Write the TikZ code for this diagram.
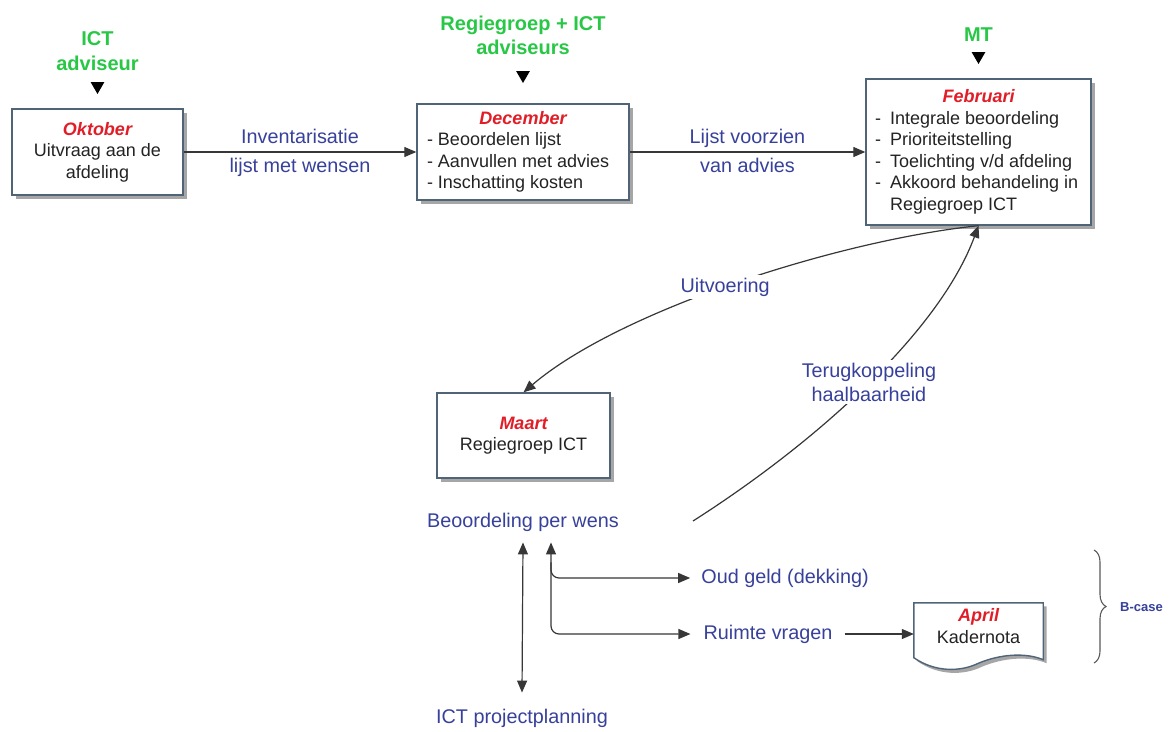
\documentclass[tikz,border=0pt]{standalone}
\usepackage{fontspec}
\setmainfont{Liberation Sans}
\usetikzlibrary{arrows.meta,shapes.geometric,shadows,calc,decorations.pathreplacing}
\pgfdeclarelayer{background}
\pgfdeclarelayer{paper}
\pgfsetlayers{paper,background,main}
\definecolor{grn}{RGB}{40,200,70}
\definecolor{redm}{RGB}{225,30,40}
\definecolor{blu}{RGB}{55,65,155}
\definecolor{frame}{RGB}{80,100,120}
\definecolor{txt}{RGB}{35,35,35}
\definecolor{wire}{RGB}{55,55,55}
\newcommand\mon[1]{{\color{redm}\bfseries\itshape #1}}
\newcommand\boxfont{\fontsize{18}{21.5}\selectfont}
\newcommand\lblfont{\fontsize{19.8}{24}\selectfont}
\newcommand\grnfont{\fontsize{20}{24.5}\selectfont\bfseries}
\newcommand\itm[1]{\makebox[15pt][l]{-}#1}
\tikzset{
  stagebox/.style={draw=frame, line width=1.4pt, fill=white, inner sep=0pt, text=txt, font=\boxfont,
    drop shadow={shadow xshift=3.5pt, shadow yshift=-3.5pt, fill=black!35, opacity=1}},
  lbl/.style={font=\lblfont, text=blu, inner sep=1pt},
  role/.style={font=\grnfont, text=grn, align=center, inner sep=0pt},
  pointer/.style={regular polygon, regular polygon sides=3, shape border rotate=180,
    fill=black, inner sep=0pt, minimum size=16pt},
  tip/.style={Triangle[length=12pt,width=10pt]},
  conn/.style={draw=wire, line width=1.2pt, -{Triangle[length=12pt,width=10pt]}},
  dconn/.style={draw=wire, line width=1.2pt, {Triangle[length=12pt,width=10pt]}-{Triangle[length=12pt,width=10pt]}},
  bracestyle/.style={draw=black!65, line width=1.1pt, decorate, decoration={brace, amplitude=12pt}},
}
\begin{document}
\begin{tikzpicture}[x=1pt,y=-1pt]
\begin{pgfonlayer}{paper}
\fill[white] (0,0) rectangle (1174,731);
\end{pgfonlayer}
\useasboundingbox (0,0) rectangle (1174,731);

% roles above the stages
\node[role] (r1) at (97.5,51) {ICT\\adviseur};
\node[role] (r2) at (523,35.5) {Regiegroep + ICT\\adviseurs};
\node[role] (r3) at (978.5,35) {MT};
\node[pointer] (p1) at (97.5,86) {};
\node[pointer] (p2) at (523,75) {};
\node[pointer] (p3) at (978.5,56) {};

% stages
\node[stagebox, minimum width=171pt, minimum height=86pt, align=center] (okt) at (97.5,152)
  {\mon{Oktober}\\Uitvraag aan de\\afdeling};
\node[stagebox, minimum width=212pt, minimum height=96pt] (dec) at (523,152)
  {\begin{minipage}{192pt}\centering\mon{December}\par\raggedright
   - Beoordelen lijst\par - Aanvullen met advies\par - Inschatting kosten\end{minipage}};
\node[stagebox, minimum width=225pt, minimum height=146pt] (feb) at (978.5,152)
  {\begin{minipage}{207pt}\centering\mon{Februari}\par\raggedright
   \itm{Integrale beoordeling}\par\itm{Prioriteitstelling}\par\itm{Toelichting v/d afdeling}\par
   \itm{Akkoord behandeling in}\par\hspace*{15pt}Regiegroep ICT\end{minipage}};
\node[stagebox, minimum width=173pt, minimum height=85pt, align=center] (maart) at (523.5,435.5)
  {\mon{Maart}\\Regiegroep ICT};

% flow along the top
\draw[conn] (okt) -- node[lbl, anchor=base, yshift=9pt]{Inventarisatie}
  node[lbl, anchor=base, yshift=-20pt]{lijst met wensen} (dec);
\draw[conn] (dec) -- node[lbl, anchor=base, yshift=9pt]{Lijst voorzien}
  node[lbl, anchor=base, yshift=-20pt]{van advies} (feb);

% loop between MT and Regiegroep
\draw[conn] (feb.south) .. controls (840,240) and (620,310) ..
  node[lbl, fill=white, pos=0.52, inner sep=3pt]{Uitvoering} (maart.north);

\node[lbl] (beo) at (523,522) {Beoordeling per wens};
\node[lbl] (ictp) at (522,718) {ICT projectplanning};
\node[lbl] (oud) at (785,578) {Oud geld (dekking)};
\node[lbl] (ruim) at (768,634) {Ruimte vragen};

\coordinate (tk) at (693,521);
\draw[conn] (tk) .. controls (820,440) and (940,330) ..
  node[lbl, fill=white, align=center, inner sep=3pt]{Terugkoppeling\\haalbaarheid} (feb.south);

% assessment branches
\draw[dconn] ($(beo.south)+(0,10)$) -- ($(ictp.north)+(0,-15)$);
\draw[dconn, rounded corners=8pt] ($(beo.south)+(28,10)$) |- ([xshift=-12pt]ruim.west);
\draw[conn, rounded corners=8pt] ($(beo.south)+(28,30)$) |- ([xshift=-10pt]oud.west);

% framework memo
\node[inner sep=0pt, minimum width=129pt, minimum height=46pt, align=center, font=\boxfont, text=txt]
  (apr) at (978.5,626) {\mon{April}\\Kadernota};
\begin{pgfonlayer}{background}
\fill[black!35, transform canvas={shift={(3.5pt,-3.5pt)}}]
  (apr.north west) -- (apr.north east) -- ($(apr.south east)+(0,10.5)$)
  .. controls ($(apr.south east)+(-18,3)$) and ($(apr.south)+(21.5,5)$) .. ($(apr.south)+(0,14)$)
  .. controls ($(apr.south)+(-18.5,23)$) and ($(apr.south west)+(21,23)$) .. ($(apr.south west)+(0,8.5)$)
  -- cycle;
\draw[draw=frame, line width=1.4pt, fill=white]
  (apr.north west) -- (apr.north east) -- ($(apr.south east)+(0,10.5)$)
  .. controls ($(apr.south east)+(-18,3)$) and ($(apr.south)+(21.5,5)$) .. ($(apr.south)+(0,14)$)
  .. controls ($(apr.south)+(-18.5,23)$) and ($(apr.south west)+(21,23)$) .. ($(apr.south west)+(0,8.5)$)
  -- cycle;
\end{pgfonlayer}
\draw[conn] ([xshift=11pt]ruim.east) -- (ruim.east -| apr.west);

% B-case bracket
\coordinate (brt) at (1094,550);
\coordinate (brb) at (1094,663);
\draw[bracestyle] (brt) -- (brb);
\node[font=\fontsize{13}{15}\selectfont\bfseries, text=blu, anchor=west, inner sep=0pt] (bc) at (1120,607) {B-case};
\end{tikzpicture}
\end{document}
